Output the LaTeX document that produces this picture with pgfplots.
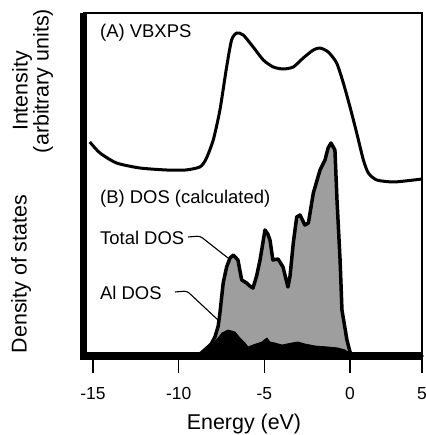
\documentclass[border=0pt]{standalone}
\usepackage{fontspec}
\setmainfont{Liberation Sans}
\usepackage{pgfplots}
\usepackage{pgfplotstable}
\pgfplotsset{compat=1.18}

% (A) valence-band XPS spectrum (arbitrary units)
\pgfplotstableread{
E      I
-15.18 214
-14.59 203
-13.62 193
-12.26 188
-10.70 186
-9.60  186
-8.76  189
-8.40  197
-7.98  216
-7.59  246
-7.20  289
-6.91  316
-6.61  323
-6.23  321
-5.65  309
-5.06  296
-4.48  289
-3.89  287
-3.31  289
-2.73  298
-2.14  306
-1.75  308
-1.27  304
-0.78  293
-0.39  273
0.00   249
0.39   223
0.78   196
1.07   183
1.56   176
2.53   174
3.72   176
4.20   177
}\xps

% (B) calculated total density of states
\pgfplotstableread{
E      D
-9.00  0
-8.75  2
-8.55  5
-8.35  8
-8.10  12
-7.88  19
-7.69  30
-7.59  43
-7.40  73
-7.20  89
-7.00  98
-6.81  101
-6.54  96
-6.32  76
-6.03  73
-5.85  70
-5.66  68
-5.45  80
-5.25  96
-4.96  126
-4.80  122
-4.67  116
-4.50  96
-4.20  97
-3.91  89
-3.62  69
-3.50  80
-3.31  113
-3.11  139
-2.92  141
-2.63  131
-2.43  133
-2.14  163
-1.75  186
-1.46  196
-1.28  208
-1.11  213
-0.88  206
-0.76  156
-0.58  96
-0.47  46
-0.18  16
0.00   4
0.15   0
4.20   0
}\dostot

% (B) calculated Al partial density of states
\pgfplotstableread{
E      D
-8.90  0
-8.60  4
-8.30  7
-8.00  12
-7.70  18
-7.47  23
-7.12  26
-6.90  25
-6.71  24
-6.42  18
-6.13  13
-5.95  9
-5.66  11
-5.14  14
-4.85  18
-4.67  14
-4.38  13
-3.97  11
-3.39  13
-3.04  14
-2.63  12
-2.04  10
-1.28  9
-0.70  8
-0.29  6
-0.12  4
0.00   0
}\dosal

\begin{document}
\begin{tikzpicture}
\path[use as bounding box] (-83.5bp,-79bp) rectangle (342.5bp,356bp);
\begin{axis}[
  at={(0,0)}, anchor=south west,
  scale only axis, width=338.5bp, height=343bp,
  xmin=-15.55, xmax=4.2, ymin=0, ymax=343,
  clip=false,
  axis line style={line width=1.6bp},
  xtick={-15,-10,-5,0,4.2}, xticklabels={-15,-10,-5,0,5},
  xtick pos=left, ytick=\empty,
  tick align=outside, major tick length=17bp,
  xtick style={line width=1.2bp, black},
  xticklabel style={font=\fontsize{17.5}{20}\selectfont, anchor=base, yshift=-26bp},
]
\addplot[line width=3bp, black, smooth, tension=0.4, line join=round] table[x=E, y=I] {\xps};
\addplot[fill=black!38, draw=black, line width=3.5bp, line join=round] table[x=E, y=D] {\dostot} \closedcycle;
\addplot[fill=black, draw=black, line width=0.8bp] table[x=E, y=D] {\dosal} \closedcycle;

% heavy left and bottom frame edges
\draw[line width=7bp, shorten <=-4bp] (rel axis cs:0,0) -- (rel axis cs:0,1);
\draw[line width=8bp] (rel axis cs:0,0) -- (rel axis cs:1,0);
\end{axis}

% panel captions and curve labels
\begin{scope}[font=\fontsize{18.5}{22}\selectfont]
\node[anchor=west, inner sep=0] at (16.5bp,323bp) {(A) VBXPS};
\node[anchor=west, inner sep=0] at (16.5bp,157bp) {(B) DOS (calculated)};
\node[anchor=west, inner sep=0] at (16.5bp,118bp) {Total DOS};
\node[anchor=west, inner sep=0] at (16.5bp,63bp) {Al DOS};
\end{scope}
\draw[line width=1.1bp, rounded corners=3bp] (104.5bp,119bp) -- (116.5bp,120bp) -- (144.5bp,98bp);
\draw[line width=1.1bp, rounded corners=3bp] (91.5bp,64bp) -- (103.5bp,65bp) -- (134.5bp,36bp);

% axis titles
\begin{scope}[font=\fontsize{21.5}{26}\selectfont]
\node[rotate=90, inner sep=0] at (-61.5bp,265bp) {Intensity};
\node[rotate=90, inner sep=0] at (-40.5bp,275bp) {(arbitrary units)};
\node[rotate=90, inner sep=0] at (-62.5bp,82bp) {Density of states};
\node[anchor=base, inner sep=0] at (160.5bp,-73bp) {Energy (eV)};
\end{scope}
\end{tikzpicture}
\end{document}
